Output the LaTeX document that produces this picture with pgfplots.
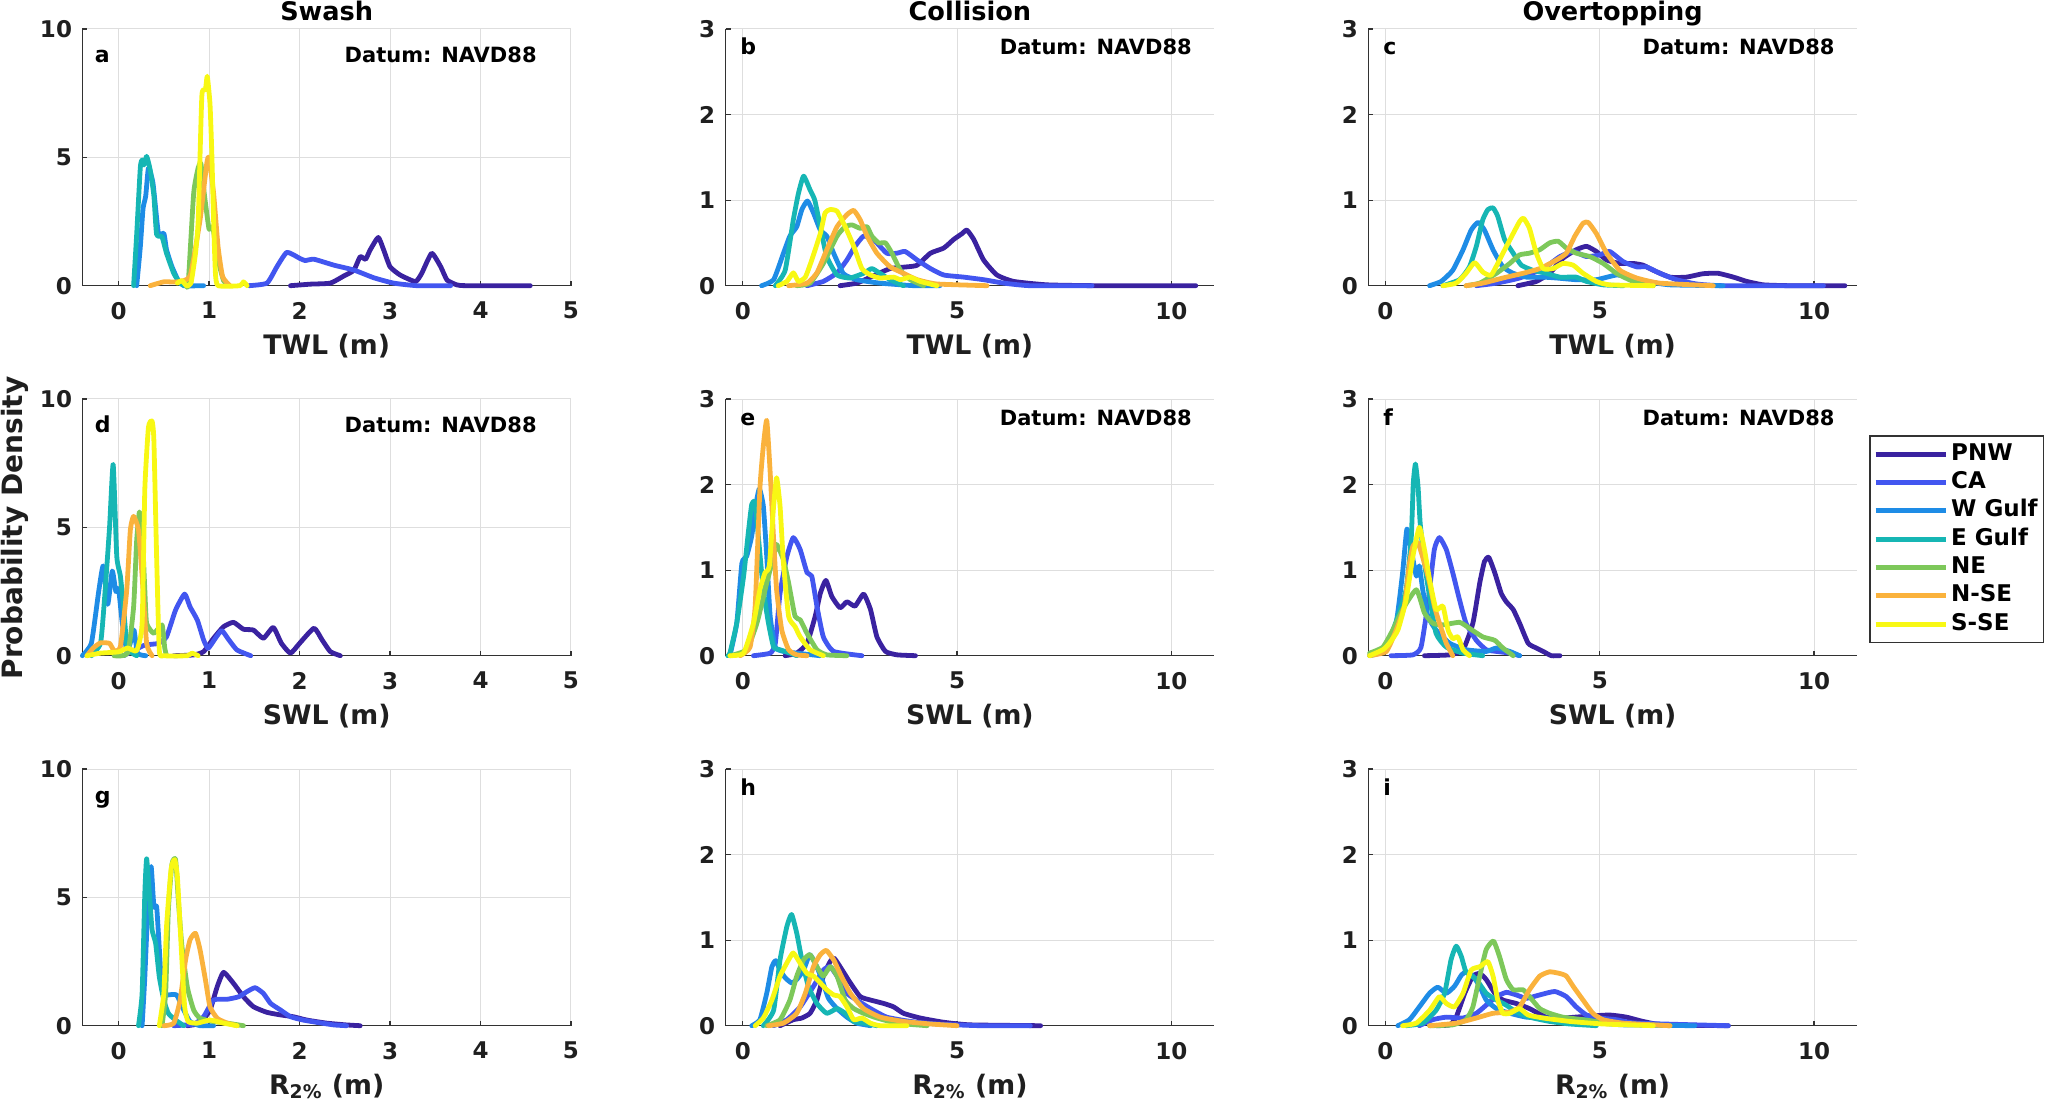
\documentclass[border=0pt]{standalone}
\usepackage{pgfplots}
\pgfplotsset{compat=1.18}
\usepackage{fontspec}
\setmainfont{DejaVu Sans}
\definecolor{PNWc}{RGB}{58,34,160}
\definecolor{CAc}{RGB}{66,86,240}
\definecolor{WGc}{RGB}{30,140,230}
\definecolor{EGc}{RGB}{22,182,180}
\definecolor{NEc}{RGB}{125,200,90}
\definecolor{NSEc}{RGB}{250,178,60}
\definecolor{SSEc}{RGB}{248,248,20}
\definecolor{gridc}{RGB}{222,222,222}
\definecolor{axc}{RGB}{50,50,50}
\newcommand{\tickf}{\bfseries\fontsize{11.5}{13.8}\selectfont}
\newcommand{\datf}{\bfseries\fontsize{10.5}{12.6}\selectfont}
\newcommand{\labf}{\bfseries\fontsize{13.4}{16}\selectfont}
\newcommand{\titf}{\bfseries\fontsize{12.8}{15.4}\selectfont}
\pgfplotsset{
  panel/.style={
    scale only axis, width=244.3pt, height=128.35pt,
    axis x line*=bottom, axis y line*=left,
    tick align=inside, major tick length=2.5pt,
    grid=major, grid style={line width=0.5pt, color=gridc},
    axis line style={line width=0.6pt, color=axc},
    tick style={line width=0.6pt, color=axc},
    ticklabel style={font=\tickf, text=black!88},
    /pgf/number format/assume math mode=true,
    xticklabel style={anchor=north, inner sep=0pt, yshift=-8pt},
    yticklabel style={anchor=east, inner sep=0pt, xshift=-5pt},
    xlabel style={at={(axis description cs:0.5,0)}, anchor=north, inner sep=0pt, yshift=-24pt, font=\labf, text=black!88},
    title style={at={(axis description cs:0.5,1)}, anchor=base, inner sep=0pt, yshift=-2pt, font=\titf},
    clip=false,
    every axis plot/.append style={line width=2.4pt, no markers, smooth, tension=0.3, line join=round, line cap=round},
    ymin=0,
  },
  narrow/.style={panel, xmin=-0.4, xmax=5, xtick={0,1,2,3,4,5}, ymax=10, ytick={0,5,10}},
  wide/.style={panel, xmin=-0.4, xmax=11, xtick={0,5,10}, ymax=3, ytick={0,1,2,3}},
}
\newcommand{\pl}[3]{\node[anchor=base west, inner sep=0pt, font=\bfseries\fontsize{11}{13}\selectfont, xshift=#2, yshift=#3] at (rel axis cs:0,1) {#1};}
\begin{document}
\begin{tikzpicture}
\useasboundingbox (0,0) rectangle (1024.5pt,-555.5pt);
% ---------------- a
\begin{axis}[narrow, at={(41.2pt,-142.85pt)}, anchor=south west, title={Swash}, xlabel={TWL (m)}]
\addplot[PNWc] coordinates {(1.9,0)(2.12,0.06)(2.34,0.1)(2.49,0.38)(2.6,0.6)(2.67,1.13)(2.73,1.03)(2.78,1.39)(2.87,1.88)(2.93,1.39)(3.0,0.74)(3.11,0.42)(3.28,0.16)(3.35,0.48)(3.46,1.26)(3.56,0.74)(3.63,0.22)(3.74,0.03)(3.85,0)(4.55,0)};
\addplot[CAc] coordinates {(1.44,0)(1.64,0.1)(1.75,0.74)(1.86,1.3)(2.0,1.07)(2.06,0.98)(2.16,1.03)(2.38,0.8)(2.6,0.61)(2.82,0.31)(3.04,0.1)(3.3,0)(3.67,0)};
\addplot[WGc] coordinates {(0.2,0)(0.24,1.5)(0.27,3.0)(0.3,3.5)(0.33,4.58)(0.38,4.0)(0.44,2.04)(0.5,2.04)(0.53,1.4)(0.59,0.74)(0.66,0.2)(0.72,0)(0.94,0)};
\addplot[EGc] coordinates {(0.166,0)(0.2,2.0)(0.24,4.6)(0.26,4.9)(0.28,4.7)(0.31,5.04)(0.35,4.5)(0.39,3.5)(0.42,2.0)(0.48,1.9)(0.53,1.26)(0.61,0.48)(0.68,0.1)(0.75,0)};
\addplot[NEc] coordinates {(0.75,0)(0.77,0.1)(0.83,3.6)(0.88,4.6)(0.91,4.75)(0.95,3.5)(1.0,2.2)(1.04,2.3)(1.1,1.0)(1.16,0.2)(1.22,0)};
\addplot[NSEc] coordinates {(0.35,0)(0.5,0.15)(0.65,0.15)(0.79,0.38)(0.9,2.56)(0.975,4.78)(1.0,4.97)(1.05,3.6)(1.1,1.5)(1.15,0.35)(1.23,0)};
\addplot[SSEc] coordinates {(0.65,0.1)(0.7,0.2)(0.75,0)(0.8,0.1)(0.85,1.26)(0.88,2.56)(0.92,7.38)(0.96,7.64)(0.98,8.16)(1.01,7.1)(1.03,5.2)(1.05,2.56)(1.07,0.5)(1.1,0)(1.34,0)(1.38,0.15)(1.42,0)};
\pl{a}{6pt}{-17pt}
\node[anchor=base east, inner sep=0pt, font=\datf, xshift=-17pt, yshift=-17pt] at (rel axis cs:1,1) {Datum: NAVD88};
\end{axis}
% ---------------- b
\begin{axis}[wide, at={(362.8pt,-142.85pt)}, anchor=south west, title={Collision}, xlabel={TWL (m)}]
\addplot[PNWc] coordinates {(2.27,0)(2.66,0.03)(2.98,0.1)(3.44,0.2)(3.83,0.22)(4.07,0.24)(4.38,0.38)(4.69,0.44)(4.92,0.54)(5.12,0.61)(5.23,0.65)(5.39,0.54)(5.62,0.3)(5.93,0.125)(6.32,0.05)(7.1,0.01)(8.27,0)(10.57,0)};
\addplot[CAc] coordinates {(1.5,0)(1.88,0.05)(2.2,0.15)(2.43,0.3)(2.62,0.46)(2.82,0.58)(3.05,0.54)(3.36,0.38)(3.6,0.38)(3.79,0.4)(4.07,0.3)(4.38,0.2)(4.69,0.125)(5.16,0.1)(5.62,0.07)(6.09,0.03)(6.7,0)(8.15,0)};
\addplot[WGc] coordinates {(0.44,0)(0.72,0.07)(0.95,0.38)(1.1,0.58)(1.26,0.69)(1.38,0.89)(1.51,0.99)(1.65,0.85)(1.81,0.65)(1.96,0.58)(2.12,0.38)(2.35,0.14)(2.66,0.07)(3.2,0.03)(4.0,0)(4.6,0)};
\addplot[EGc] coordinates {(0.76,0)(0.99,0.18)(1.18,0.77)(1.3,1.08)(1.42,1.28)(1.57,1.12)(1.68,1.0)(1.81,0.69)(1.96,0.34)(2.2,0.125)(2.5,0.09)(2.82,0.145)(3.01,0.2)(3.2,0.145)(3.44,0.07)(3.75,0)};
\addplot[NEc] coordinates {(1.26,0)(1.57,0.03)(1.88,0.26)(2.2,0.58)(2.39,0.69)(2.55,0.71)(2.74,0.67)(2.9,0.69)(3.01,0.58)(3.17,0.5)(3.33,0.5)(3.48,0.38)(3.68,0.18)(3.91,0.07)(4.22,0)};
\addplot[NSEc] coordinates {(1.07,0)(1.5,0.03)(1.73,0.15)(1.96,0.42)(2.2,0.69)(2.43,0.83)(2.59,0.88)(2.74,0.77)(2.9,0.58)(3.13,0.38)(3.44,0.22)(3.75,0.145)(4.07,0.07)(4.53,0.02)(5.7,0)};
\addplot[SSEc] coordinates {(0.83,0)(1.03,0.05)(1.18,0.15)(1.3,0.05)(1.46,0.1)(1.61,0.3)(1.81,0.61)(1.92,0.85)(2.04,0.89)(2.2,0.87)(2.39,0.69)(2.59,0.46)(2.78,0.2)(2.98,0.125)(3.2,0.09)(3.52,0.1)(3.68,0.07)(3.9,0.1)(4.14,0.05)(4.53,0)};
\pl{b}{7.2pt}{-13pt}
\node[anchor=base east, inner sep=0pt, font=\datf, xshift=-11pt, yshift=-13pt] at (rel axis cs:1,1) {Datum: NAVD88};
\end{axis}
% ---------------- c
\begin{axis}[wide, at={(684.15pt,-142.85pt)}, anchor=south west, title={Overtopping}, xlabel={TWL (m)}]
\addplot[PNWc] coordinates {(3.09,0)(3.52,0.05)(3.83,0.145)(4.14,0.32)(4.45,0.42)(4.69,0.46)(4.92,0.4)(5.16,0.3)(5.47,0.26)(5.78,0.26)(6.01,0.24)(6.25,0.18)(6.64,0.1)(7.02,0.1)(7.41,0.14)(7.76,0.145)(8.12,0.1)(8.43,0.05)(8.82,0.01)(9.44,0)(10.72,0)};
\addplot[CAc] coordinates {(2.12,0)(2.59,0.03)(3.13,0.09)(3.68,0.2)(4.07,0.34)(4.38,0.4)(4.69,0.34)(5.0,0.36)(5.23,0.4)(5.55,0.28)(5.86,0.22)(6.09,0.22)(6.4,0.145)(6.79,0.07)(7.26,0.02)(7.88,0)(10.22,0)};
\addplot[WGc] coordinates {(1.03,0)(1.3,0.05)(1.57,0.18)(1.81,0.42)(2.0,0.65)(2.16,0.74)(2.31,0.65)(2.51,0.42)(2.74,0.22)(2.98,0.145)(3.29,0.1)(3.68,0.1)(3.99,0.09)(4.45,0.07)(4.92,0.07)(5.39,0.125)(5.7,0.1)(6.09,0.05)(6.64,0.01)(7.88,0)};
\addplot[EGc] coordinates {(1.34,0)(1.73,0.07)(1.96,0.22)(2.12,0.46)(2.27,0.77)(2.39,0.89)(2.51,0.91)(2.62,0.81)(2.78,0.54)(2.98,0.38)(3.17,0.24)(3.44,0.18)(3.75,0.145)(4.07,0.1)(4.45,0.1)(4.69,0.05)(5.08,0.01)(5.55,0)};
\addplot[NEc] coordinates {(1.88,0)(2.2,0.03)(2.59,0.145)(2.9,0.26)(3.13,0.36)(3.36,0.38)(3.6,0.42)(3.83,0.5)(4.03,0.52)(4.22,0.44)(4.45,0.38)(4.77,0.34)(5.08,0.26)(5.39,0.145)(5.78,0.05)(6.25,0)};
\addplot[NSEc] coordinates {(1.88,0)(2.27,0.03)(2.74,0.09)(3.21,0.145)(3.6,0.2)(3.99,0.3)(4.22,0.38)(4.42,0.58)(4.61,0.73)(4.73,0.74)(4.92,0.61)(5.16,0.38)(5.47,0.18)(5.86,0.09)(6.4,0.03)(7.65,0)};
\addplot[SSEc] coordinates {(1.34,0)(1.65,0.03)(1.88,0.145)(2.08,0.27)(2.27,0.16)(2.47,0.125)(2.74,0.38)(2.98,0.61)(3.13,0.75)(3.22,0.79)(3.36,0.67)(3.52,0.38)(3.68,0.2)(3.91,0.2)(4.14,0.26)(4.38,0.24)(4.61,0.145)(4.92,0.05)(5.23,0.01)(6.25,0)};
\pl{c}{7.3pt}{-13pt}
\node[anchor=base east, inner sep=0pt, font=\datf, xshift=-11pt, yshift=-13pt] at (rel axis cs:1,1) {Datum: NAVD88};
\end{axis}
% ---------------- d
\begin{axis}[narrow, at={(41.2pt,-327.85pt)}, anchor=south west, xlabel={SWL (m)}]
\addplot[PNWc] coordinates {(0.61,0)(0.83,0.03)(0.94,0.16)(1.05,0.68)(1.16,1.13)(1.27,1.3)(1.38,1.03)(1.49,1.0)(1.6,0.68)(1.71,1.1)(1.8,0.48)(1.9,0.1)(2.0,0.48)(2.16,1.07)(2.25,0.61)(2.34,0.16)(2.45,0)};
\addplot[CAc] coordinates {(0.055,0)(0.28,0.4)(0.44,0.48)(0.53,0.74)(0.63,1.78)(0.73,2.4)(0.79,1.9)(0.87,1.39)(0.94,0.61)(0.99,0.29)(1.07,0.68)(1.14,0.98)(1.22,0.61)(1.31,0.22)(1.46,0)};
\addplot[WGc] coordinates {(-0.4,0)(-0.3,0.5)(-0.22,2.5)(-0.17,3.5)(-0.12,2.0)(-0.07,3.3)(-0.03,2.5)(0.0,2.6)(0.04,1.3)(0.09,0.2)(0.13,0.5)(0.17,1.0)(0.21,0.1)(0.3,0)};
\addplot[EGc] coordinates {(-0.3,0)(-0.2,0.48)(-0.16,2.0)(-0.1,5.0)(-0.06,7.45)(-0.02,3.87)(0.02,3.1)(0.055,1.9)(0.09,0.48)(0.15,0.1)(0.2,0)};
\addplot[NEc] coordinates {(-0.05,0)(0.1,0.1)(0.166,1.9)(0.2,4.5)(0.23,5.6)(0.26,4.9)(0.29,2.56)(0.31,1.26)(0.39,0.87)(0.48,1.2)(0.51,0.3)(0.53,0)};
\addplot[NSEc] coordinates {(-0.35,0)(-0.28,0.3)(-0.2,0.5)(-0.1,0.48)(-0.05,0.2)(0.02,0.35)(0.09,2.56)(0.13,4.9)(0.166,5.43)(0.22,4.9)(0.26,3.1)(0.31,0.48)(0.37,0)};
\addplot[SSEc] coordinates {(-0.35,0)(-0.2,0.1)(0.0,0.15)(0.1,0.3)(0.2,0.2)(0.26,1.26)(0.29,6.5)(0.33,8.9)(0.37,9.14)(0.39,8.4)(0.42,3.9)(0.45,0.2)(0.5,0)(0.76,0)(0.81,0.1)(0.88,0)};
\pl{d}{6pt}{-17pt}
\node[anchor=base east, inner sep=0pt, font=\datf, xshift=-17pt, yshift=-17pt] at (rel axis cs:1,1) {Datum: NAVD88};
\end{axis}
% ---------------- e
\begin{axis}[wide, at={(362.8pt,-327.85pt)}, anchor=south west, xlabel={SWL (m)}]
\addplot[PNWc] coordinates {(0.99,0)(1.26,0.03)(1.5,0.145)(1.69,0.46)(1.81,0.73)(1.94,0.88)(2.08,0.69)(2.27,0.56)(2.43,0.63)(2.62,0.58)(2.82,0.72)(2.98,0.54)(3.13,0.22)(3.33,0.05)(3.6,0.01)(4.03,0)};
\addplot[CAc] coordinates {(0.25,0)(0.64,0.03)(0.76,0.145)(0.87,0.73)(1.03,1.16)(1.18,1.38)(1.34,1.24)(1.5,0.97)(1.61,0.93)(1.73,0.58)(1.88,0.22)(2.12,0.05)(2.78,0)};
\addplot[WGc] coordinates {(-0.3,0)(-0.14,0.38)(-0.02,1.08)(0.09,1.16)(0.21,1.4)(0.33,1.83)(0.39,1.95)(0.48,1.75)(0.56,1.16)(0.64,0.46)(0.76,0.1)(0.95,0.05)(1.26,0.03)(1.8,0)};
\addplot[EGc] coordinates {(-0.35,0)(-0.3,0.03)(-0.14,0.38)(0.02,0.93)(0.13,1.44)(0.21,1.77)(0.29,1.79)(0.37,1.36)(0.48,0.77)(0.6,0.38)(0.72,0.1)(0.87,0.07)(1.1,0.03)(1.26,0)};
\addplot[NEc] coordinates {(-0.3,0)(0.09,0.07)(0.33,0.38)(0.56,0.85)(0.72,1.16)(0.79,1.3)(0.95,1.12)(1.07,0.85)(1.22,0.46)(1.34,0.42)(1.5,0.26)(1.73,0.07)(1.96,0.01)(2.43,0)};
\addplot[NSEc] coordinates {(-0.06,0)(0.17,0.1)(0.29,0.58)(0.4,1.95)(0.48,2.45)(0.56,2.75)(0.64,2.14)(0.72,1.36)(0.79,0.77)(0.91,0.3)(1.07,0.07)(1.26,0.01)(1.5,0)};
\addplot[SSEc] coordinates {(-0.3,0)(0.02,0.03)(0.25,0.38)(0.4,0.77)(0.52,0.97)(0.62,1.05)(0.72,1.75)(0.79,2.08)(0.87,1.75)(0.95,1.08)(1.07,0.46)(1.22,0.34)(1.34,0.22)(1.57,0.07)(1.88,0)};
\pl{e}{7.2pt}{-13pt}
\node[anchor=base east, inner sep=0pt, font=\datf, xshift=-11pt, yshift=-13pt] at (rel axis cs:1,1) {Datum: NAVD88};
\end{axis}
% ---------------- f
\begin{axis}[wide, at={(684.15pt,-327.85pt)}, anchor=south west, xlabel={SWL (m)},
  legend style={at={(1.0252,0.859)}, anchor=north west, draw=axc, line width=0.7pt, fill=white,
    font=\tickf, inner xsep=1.5pt, inner ysep=2.2pt, row sep=0.15pt,
    nodes={text height=8.5pt, text depth=2.5pt, inner sep=1.5pt}},
  legend cell align=left,
  legend image code/.code={\draw[#1, line width=2.6pt, line cap=butt] (0pt,0pt) -- (35pt,0pt);}]
\addplot[PNWc] coordinates {(0.91,0)(1.5,0.01)(1.81,0.07)(2.04,0.38)(2.2,0.85)(2.31,1.1)(2.41,1.15)(2.55,0.97)(2.7,0.73)(2.82,0.63)(2.98,0.54)(3.13,0.38)(3.33,0.145)(3.52,0.09)(3.68,0.05)(3.87,0)(4.07,0)};
\addplot[CAc] coordinates {(0.13,0)(0.64,0.01)(0.83,0.1)(0.99,0.61)(1.14,1.24)(1.26,1.38)(1.42,1.24)(1.57,0.97)(1.73,0.65)(1.88,0.38)(2.12,0.18)(2.35,0.07)(2.59,0.05)(2.9,0.03)(3.13,0)};
\addplot[WGc] coordinates {(-0.37,0)(0.02,0.07)(0.25,0.38)(0.4,0.97)(0.5,1.48)(0.6,1.24)(0.72,0.93)(0.79,1.05)(0.87,0.77)(0.99,0.46)(1.18,0.3)(1.5,0.145)(1.88,0.07)(2.35,0.05)(2.59,0.09)(2.9,0.05)(3.13,0)};
\addplot[EGc] coordinates {(-0.37,0)(-0.06,0.07)(0.09,0.18)(0.29,0.46)(0.48,0.77)(0.6,1.36)(0.65,2.02)(0.7,2.24)(0.76,1.98)(0.81,1.55)(0.91,1.08)(1.03,0.69)(1.18,0.26)(1.42,0.1)(1.81,0.03)(2.27,0)};
\addplot[NEc] coordinates {(-0.37,0.03)(-0.06,0.1)(0.17,0.3)(0.4,0.54)(0.72,0.77)(0.91,0.5)(1.1,0.38)(1.34,0.36)(1.73,0.39)(1.96,0.32)(2.27,0.22)(2.55,0.18)(2.74,0.09)(2.98,0)};
\addplot[NSEc] coordinates {(-0.37,0)(0.02,0.05)(0.25,0.3)(0.44,0.58)(0.56,1.08)(0.64,1.28)(0.76,1.32)(0.91,1.08)(1.03,0.85)(1.14,0.58)(1.26,0.38)(1.42,0.145)(1.57,0)};
\addplot[SSEc] coordinates {(-0.37,0)(-0.06,0.07)(0.09,0.145)(0.29,0.3)(0.48,0.65)(0.64,1.16)(0.79,1.5)(0.91,1.24)(1.03,0.89)(1.18,0.54)(1.34,0.58)(1.46,0.3)(1.57,0.2)(1.69,0.22)(1.81,0.07)(1.96,0)};
\legend{PNW,CA,W Gulf,E Gulf,NE,N-SE,S-SE}
\pl{f}{7.3pt}{-13pt}
\node[anchor=base east, inner sep=0pt, font=\datf, xshift=-11pt, yshift=-13pt] at (rel axis cs:1,1) {Datum: NAVD88};
\end{axis}
% ---------------- g
\begin{axis}[narrow, at={(41.2pt,-512.85pt)}, anchor=south west, xlabel={R\textsubscript{2\%} (m)}]
\addplot[PNWc] coordinates {(0.76,0)(0.9,0.1)(1.01,0.61)(1.09,1.52)(1.16,2.08)(1.27,1.65)(1.38,1.13)(1.49,0.74)(1.64,0.52)(1.79,0.42)(1.93,0.35)(2.08,0.22)(2.3,0.1)(2.52,0.03)(2.67,0)};
\addplot[CAc] coordinates {(0.61,0)(0.83,0.06)(0.94,0.35)(1.05,1.0)(1.2,1.03)(1.33,1.13)(1.42,1.33)(1.51,1.48)(1.6,1.26)(1.68,0.87)(1.79,0.61)(1.9,0.35)(2.04,0.22)(2.19,0.13)(2.38,0.03)(2.52,0)};
\addplot[WGc] coordinates {(0.26,0)(0.29,1.9)(0.33,5.17)(0.36,6.2)(0.39,4.65)(0.42,4.65)(0.44,3.6)(0.48,1.4)(0.53,1.2)(0.64,1.2)(0.72,0.61)(0.79,0.16)(0.9,0)(1.05,0)};
\addplot[EGc] coordinates {(0.22,0)(0.26,1.26)(0.29,5.17)(0.31,6.5)(0.34,5.17)(0.37,3.74)(0.41,3.2)(0.45,1.9)(0.5,1.0)(0.55,0.48)(0.63,0.22)(0.72,0)};
\addplot[NEc] coordinates {(0.48,0)(0.52,1.26)(0.55,4.5)(0.59,6.3)(0.63,6.47)(0.66,4.9)(0.7,3.1)(0.76,1.5)(0.83,0.61)(0.9,0.29)(1.05,0.16)(1.2,0.1)(1.38,0)};
\addplot[NSEc] coordinates {(0.5,0)(0.61,0.1)(0.68,1.0)(0.74,2.56)(0.79,3.35)(0.85,3.6)(0.9,2.96)(0.96,1.78)(1.01,0.74)(1.09,0.29)(1.2,0.1)(1.31,0)};
\addplot[SSEc] coordinates {(0.45,0)(0.5,1.26)(0.53,3.87)(0.58,6.1)(0.62,6.47)(0.65,5.8)(0.69,3.2)(0.73,0.74)(0.77,0.16)(0.87,0.1)(1.01,0.22)(1.16,0.1)(1.31,0)};
\pl{g}{6pt}{-17pt}
\end{axis}
% ---------------- h
\begin{axis}[wide, at={(362.8pt,-512.85pt)}, anchor=south west, xlabel={R\textsubscript{2\%} (m)}]
\addplot[PNWc] coordinates {(0.87,0)(1.18,0.07)(1.38,0.09)(1.57,0.145)(1.73,0.3)(1.88,0.58)(2.04,0.75)(2.13,0.79)(2.27,0.69)(2.51,0.5)(2.74,0.34)(2.98,0.3)(3.29,0.26)(3.52,0.22)(3.75,0.145)(4.14,0.09)(4.69,0.04)(5.31,0.01)(6.95,0)};
\addplot[CAc] coordinates {(0.72,0)(1.03,0.07)(1.34,0.22)(1.65,0.46)(1.88,0.65)(2.04,0.69)(2.2,0.58)(2.43,0.38)(2.66,0.3)(2.98,0.2)(3.36,0.1)(3.91,0.05)(4.53,0.02)(5.55,0)(6.71,0)};
\addplot[WGc] coordinates {(0.21,0)(0.4,0.07)(0.56,0.38)(0.68,0.69)(0.77,0.76)(0.87,0.65)(0.99,0.56)(1.14,0.5)(1.26,0.54)(1.42,0.65)(1.56,0.83)(1.69,0.73)(1.85,0.54)(2.0,0.32)(2.2,0.2)(2.43,0.1)(2.66,0.03)(2.98,0)};
\addplot[EGc] coordinates {(0.48,0)(0.72,0.18)(0.87,0.77)(1.03,1.16)(1.14,1.3)(1.26,1.08)(1.38,0.77)(1.53,0.46)(1.73,0.26)(1.96,0.145)(2.2,0.2)(2.39,0.145)(2.59,0.05)(2.82,0.03)(3.13,0)};
\addplot[NEc] coordinates {(0.56,0)(0.87,0.07)(1.1,0.3)(1.26,0.58)(1.42,0.77)(1.57,0.83)(1.73,0.69)(1.88,0.58)(2.04,0.69)(2.2,0.58)(2.39,0.3)(2.59,0.2)(2.82,0.145)(3.13,0.09)(3.6,0.03)(4.3,0)};
\addplot[NSEc] coordinates {(0.6,0)(0.95,0.03)(1.26,0.145)(1.46,0.38)(1.65,0.69)(1.81,0.83)(1.95,0.88)(2.12,0.77)(2.27,0.61)(2.51,0.38)(2.82,0.2)(3.21,0.1)(3.75,0.05)(4.38,0.02)(5.0,0)};
\addplot[SSEc] coordinates {(0.29,0)(0.48,0.09)(0.68,0.3)(0.87,0.58)(1.07,0.77)(1.18,0.85)(1.34,0.73)(1.5,0.61)(1.65,0.58)(1.81,0.5)(1.96,0.42)(2.12,0.36)(2.27,0.34)(2.43,0.22)(2.59,0.07)(2.78,0.09)(2.98,0.03)(3.21,0)(3.83,0)};
\pl{h}{7.2pt}{-13pt}
\end{axis}
% ---------------- i
\begin{axis}[wide, at={(684.15pt,-512.85pt)}, anchor=south west, xlabel={R\textsubscript{2\%} (m)}]
\addplot[PNWc] coordinates {(1.18,0)(1.5,0.01)(1.65,0.1)(1.85,0.38)(2.04,0.58)(2.2,0.61)(2.35,0.54)(2.55,0.38)(2.74,0.3)(3.05,0.26)(3.36,0.2)(3.75,0.1)(4.14,0.09)(4.69,0.11)(5.23,0.125)(5.62,0.1)(6.01,0.05)(6.48,0.01)(8.0,0)};
\addplot[CAc] coordinates {(0.79,0)(1.1,0.07)(1.42,0.1)(1.81,0.09)(2.12,0.145)(2.35,0.24)(2.59,0.34)(2.82,0.39)(3.05,0.36)(3.29,0.32)(3.6,0.36)(3.95,0.4)(4.22,0.34)(4.45,0.22)(4.69,0.125)(5.0,0.09)(5.39,0.07)(5.86,0.03)(8.0,0)};
\addplot[WGc] coordinates {(0.29,0)(0.56,0.07)(0.79,0.22)(1.03,0.38)(1.22,0.45)(1.42,0.38)(1.61,0.46)(1.77,0.59)(1.88,0.63)(2.04,0.58)(2.2,0.46)(2.35,0.3)(2.59,0.2)(2.9,0.145)(3.29,0.1)(3.75,0.09)(4.3,0.07)(4.69,0.07)(5.08,0.03)(5.55,0.01)(7.22,0)};
\addplot[EGc] coordinates {(0.48,0)(0.87,0.03)(1.18,0.18)(1.38,0.38)(1.53,0.77)(1.65,0.93)(1.77,0.81)(1.88,0.63)(2.12,0.54)(2.35,0.38)(2.59,0.3)(2.82,0.24)(3.05,0.16)(3.36,0.1)(3.83,0.05)(4.3,0.02)(4.92,0)};
\addplot[NEc] coordinates {(1.03,0)(1.57,0.01)(1.88,0.07)(2.04,0.22)(2.2,0.58)(2.35,0.89)(2.52,0.99)(2.66,0.81)(2.82,0.54)(2.98,0.42)(3.21,0.42)(3.36,0.34)(3.6,0.2)(3.83,0.145)(4.14,0.1)(4.61,0.07)(5.23,0.03)(6.64,0)};
\addplot[NSEc] coordinates {(1.03,0)(1.65,0.03)(2.12,0.09)(2.51,0.145)(2.9,0.16)(3.13,0.22)(3.36,0.42)(3.6,0.58)(3.83,0.63)(4.07,0.61)(4.22,0.58)(4.38,0.46)(4.61,0.3)(4.84,0.145)(5.08,0.07)(5.55,0.03)(6.64,0)};
\addplot[SSEc] coordinates {(0.4,0)(0.72,0.03)(1.03,0.18)(1.26,0.34)(1.42,0.26)(1.61,0.22)(1.81,0.38)(2.0,0.65)(2.2,0.69)(2.39,0.75)(2.51,0.58)(2.62,0.3)(2.74,0.145)(2.9,0.145)(3.13,0.2)(3.33,0.125)(3.68,0.09)(4.3,0.05)(5.08,0.02)(6.25,0)};
\pl{i}{7.3pt}{-13pt}
\end{axis}
% y label
\node[rotate=90, font=\bfseries\fontsize{14}{16.8}\selectfont, text=black!88, inner sep=0pt] at (7.25pt,-264pt) {Probability Density};
\end{tikzpicture}
\end{document}
